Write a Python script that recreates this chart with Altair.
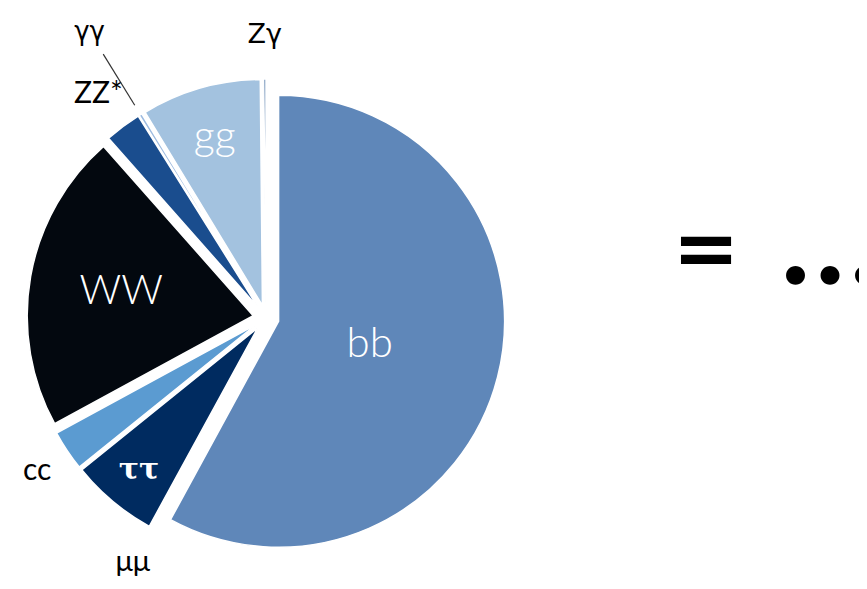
import altair as alt
import pandas as pd

# Higgs boson branching ratios (%), clockwise from 12 o'clock
NAMES = ["bb", "μμ", "ττ", "cc", "WW", "ZZ*", "γγ", "gg", "Zγ"]
BR = [58.2, 0.022, 6.27, 2.89, 21.5, 2.62, 0.227, 8.57, 0.154]
COLORS = ["#5f87b9", "#9cc3e6", "#002b60", "#5b9bd1", "#03080f",
          "#1a4d8e", "#9dbbe0", "#a3c2df", "#2a5a94"]
LABEL_R = [107, 278, 198, 275, 147, 280, 336, 187, 283]
LABEL_COLOR = ["white", "black", "white", "black", "white",
               "black", "black", "white", "black"]
LABEL_SIZE = [42, 29, 30, 30, 41, 30, 26, 41, 27]
LABEL_FONT = ["Lato", "Lato", "DejaVu Serif", "Lato", "Lato",
              "Lato", "DejaVu Sans", "Lato", "DejaVu Sans"]

CX, CY = 258, 310
R = 226
EXPLODE = 13

df = pd.DataFrame({
    "name": NAMES, "br": BR, "order": list(range(len(NAMES))),
    "color": COLORS, "lr": LABEL_R, "lc": LABEL_COLOR, "ls": LABEL_SIZE,
    "lf": LABEL_FONT,
})

base = (
    alt.Chart(df)
    .transform_window(cum="sum(br)", sort=[alt.SortField("order")], frame=[None, 0])
    .transform_joinaggregate(total="sum(br)")
    .transform_calculate(
        a0="(datum.cum - datum.br) / datum.total * 2 * PI",
        a1="datum.cum / datum.total * 2 * PI",
    )
    .transform_calculate(mid="(datum.a0 + datum.a1) / 2")
    .transform_calculate(
        cx=f"{CX} + {EXPLODE} * sin(datum.mid)",
        cy=f"{CY} - {EXPLODE} * cos(datum.mid)",
        lx=f"{CX} + datum.lr * sin(datum.mid)",
        ly=f"{CY} - datum.lr * cos(datum.mid)",
        rx1=f"{CX} + 250 * sin(datum.mid)",
        ry1=f"{CY} - 250 * cos(datum.mid)",
        rx2=f"{CX} + 310 * sin(datum.mid)",
        ry2=f"{CY} - 310 * cos(datum.mid)",
    )
)

arcs = base.mark_arc(radius=R, stroke="white", strokeWidth=1.5).encode(
    theta=alt.Theta("a0:Q", scale=None),
    theta2="a1:Q",
    x=alt.X("cx:Q", scale=None),
    y=alt.Y("cy:Q", scale=None),
    color=alt.Color("color:N", scale=None),
)

def label_layer(expr, **mark_kw):
    return base.transform_filter(expr).mark_text(
        align="center", baseline="middle", **mark_kw
    ).encode(
        x=alt.X("lx:Q", scale=None),
        y=alt.Y("ly:Q", scale=None),
        text="name:N",
        color=alt.Color("lc:N", scale=None),
        size=alt.Size("ls:Q", scale=None),
    )

white_labels = label_layer("datum.lc == 'white' && datum.lf == 'Lato'",
                           font="Lato", fontWeight=300)
black_labels = label_layer("datum.lc == 'black' && datum.lf == 'Lato'",
                           font="Lato", fontWeight=400)
gamma_labels = label_layer("datum.lf == 'DejaVu Sans'", font="DejaVu Sans")
tau = label_layer("datum.lf == 'DejaVu Serif'", font="DejaVu Serif", fontWeight="bold")

leader = base.transform_filter("datum.name == 'γγ'").mark_rule(
    color="#333333", strokeWidth=1.2
).encode(
    x=alt.X("rx1:Q", scale=None),
    y=alt.Y("ry1:Q", scale=None),
    x2="rx2:Q",
    y2="ry2:Q",
)

ann = pd.DataFrame({"t": ["=", "•••"], "px": [698, 822], "py": [244, 271],
                    "fs": [80, 54]})
annot = alt.Chart(ann).mark_text(
    font="DejaVu Sans", fontWeight="bold", align="center", baseline="middle", color="black"
).encode(
    x=alt.X("px:Q", scale=None),
    y=alt.Y("py:Q", scale=None),
    text="t:N",
    size=alt.Size("fs:Q", scale=None),
)

chart = (
    alt.layer(arcs, leader, white_labels, black_labels, gamma_labels, tau, annot)
    .properties(width=851, height=573, padding=0, autosize=alt.AutoSizeParams(type="none"))
    .configure_view(stroke=None)
)

chart.save("out.html", embed_options={"renderer": "svg", "actions": False})
